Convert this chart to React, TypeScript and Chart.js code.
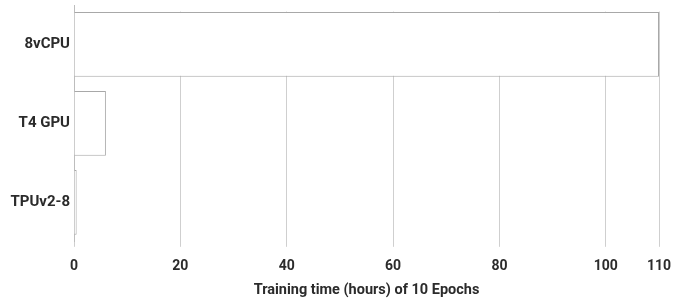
import React, { useEffect, useRef } from "react";
import { Chart, registerables } from "chart.js";

Chart.register(...registerables);

const categories = ["8vCPU", "T4 GPU", "TPUv2-8"];
const trainingHours = [110, 6, 0.5];
const xTickValues = [0, 20, 40, 60, 80, 100, 110];
const xAxisTitle = "Training time (hours) of 10 Epochs";

const maskAboveBars = {
  id: "maskAboveBars",
  beforeDatasetsDraw(chart: any) {
    const meta = chart.getDatasetMeta(0);
    if (!meta || !meta.data.length) return;
    let minTop = Infinity;
    meta.data.forEach((el: any) => {
      const top = el.y - el.height / 2;
      if (top < minTop) minTop = top;
    });
    const { ctx, chartArea } = chart;
    ctx.save();
    ctx.fillStyle = "#ffffff";
    ctx.fillRect(chartArea.left + 1, chartArea.top, chartArea.right - chartArea.left + 2, minTop - chartArea.top - 0.5);
    ctx.restore();
  },
};

export default function App() {
  const ref = useRef<HTMLCanvasElement>(null);
  useEffect(() => {
    if (!ref.current) return;
    const textColor = "#2b2b2b";
    const chart = new Chart(ref.current, {
      type: "bar",
      data: {
        labels: categories,
        datasets: [
          {
            data: trainingHours,
            backgroundColor: "#ffffff",
            borderColor: "#a8a8a8",
            borderWidth: 1,
            categoryPercentage: 1,
            barPercentage: 0.82,
          },
        ],
      },
      plugins: [maskAboveBars],
      options: {
        indexAxis: "y",
        animation: false,
        responsive: false,
        maintainAspectRatio: false,
        layout: { padding: { top: 5, right: 33, bottom: 1, left: 8 } },
        plugins: { legend: { display: false }, tooltip: { enabled: false } },
        scales: {
          x: {
            type: "linear",
            min: 0,
            max: 110,
            afterBuildTicks: (scale: any) => {
              scale.ticks = xTickValues.map((v) => ({ value: v }));
            },
            grid: { color: "#cfcfcf", lineWidth: 1, drawTicks: true, tickLength: 5 },
            border: { display: false },
            ticks: {
              padding: 11,
              color: textColor,
              font: { family: "Roboto", weight: "bold", size: 14 },
            },
            title: {
              display: true,
              text: xAxisTitle,
              color: textColor,
              font: { family: "Roboto", weight: "bold", size: 14.5 },
              padding: { top: -4, bottom: 0 },
            },
          },
          y: {
            grid: { display: false, drawTicks: false },
            border: { display: true, color: "#bdbdbd", width: 1 },
            afterFit: (scale: any) => {
              scale.width = 66;
              scale.paddingTop = 0;
              scale.paddingBottom = 0;
            },
            ticks: {
              padding: 4,
              color: textColor,
              font: { family: "Roboto", weight: "bold", size: 15 },
            },
          },
        },
      },
    } as any);
    return () => chart.destroy();
  }, []);
  return (
    <div style={{ position: "absolute", left: 0, top: 0, width: 692, height: 300 }}>
      <canvas ref={ref} width={692} height={300} style={{ width: 692, height: 300 }} />
    </div>
  );
}
